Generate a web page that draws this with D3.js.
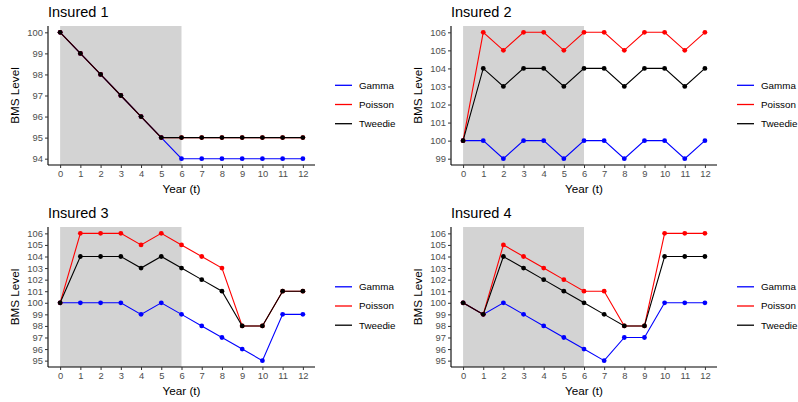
<!DOCTYPE html>
<html><head><meta charset="utf-8">
<script src="https://cdn.jsdelivr.net/npm/d3@7"></script>
<style>body{margin:0;background:#fff}svg{display:block}</style>
</head><body>
<svg id="c" width="798" height="402"></svg>
<script>
const years = [0,1,2,3,4,5,6,7,8,9,10,11,12];
const seriesNames = ["Gamma","Poisson","Tweedie"];
const seriesColors = ["#0000FF","#FF0000","#000000"];
const titles = ["Insured 1","Insured 2","Insured 3","Insured 4"];

const ins1Gamma   = [100,99,98,97,96,95,94,94,94,94,94,94,94];
const ins1Poisson = [100,99,98,97,96,95,95,95,95,95,95,95,95];
const ins1Tweedie = [100,99,98,97,96,95,95,95,95,95,95,95,95];

const ins2Gamma   = [100,100,99,100,100,99,100,100,99,100,100,99,100];
const ins2Poisson = [100,106,105,106,106,105,106,106,105,106,106,105,106];
const ins2Tweedie = [100,104,103,104,104,103,104,104,103,104,104,103,104];

const ins3Gamma   = [100,100,100,100,99,100,99,98,97,96,95,99,99];
const ins3Poisson = [100,106,106,106,105,106,105,104,103,98,98,101,101];
const ins3Tweedie = [100,104,104,104,103,104,103,102,101,98,98,101,101];

const ins4Gamma   = [100,99,100,99,98,97,96,95,97,97,100,100,100];
const ins4Poisson = [100,99,105,104,103,102,101,101,98,98,106,106,106];
const ins4Tweedie = [100,99,104,103,102,101,100,99,98,98,104,104,104];

const yTicks1 = [94,95,96,97,98,99,100];
const yTicks2 = [99,100,101,102,103,104,105,106];
const yTicks3 = [95,96,97,98,99,100,101,102,103,104,105,106];
const yTicks4 = [95,96,97,98,99,100,101,102,103,104,105,106];
const shadeRange = [0,6];

const panels = [
  {title:titles[0], data:[ins1Gamma,ins1Poisson,ins1Tweedie], ticks:yTicks1, x0:48, x1:315, y0:26, y1:165},
  {title:titles[1], data:[ins2Gamma,ins2Poisson,ins2Tweedie], ticks:yTicks2, x0:451, x1:717, y0:26, y1:165},
  {title:titles[2], data:[ins3Gamma,ins3Poisson,ins3Tweedie], ticks:yTicks3, x0:48, x1:315, y0:227, y1:367},
  {title:titles[3], data:[ins4Gamma,ins4Poisson,ins4Tweedie], ticks:yTicks4, x0:451, x1:717, y0:227, y1:367}
];

const svg = d3.select("#c");
const FONT = "'Liberation Sans', Arial, Helvetica, sans-serif";

panels.forEach(p => {
  const g = svg.append("g");
  const all = p.data.flat();
  const mn = d3.min(all), mx = d3.max(all), r = mx - mn;
  const x = d3.scaleLinear().domain([-0.6, 12.6]).range([p.x0, p.x1]);
  const y = d3.scaleLinear().domain([mn - 0.05*r, mx + 0.05*r]).range([p.y1, p.y0]);

  // shaded region
  g.append("rect").attr("x", x(shadeRange[0])).attr("y", p.y0)
    .attr("width", x(shadeRange[1]) - x(shadeRange[0])).attr("height", p.y1 - p.y0)
    .attr("fill", "#d3d3d3");

  // series
  p.data.forEach((vals, i) => {
    const pts = years.map((yr, j) => [yr, vals[j]]);
    g.append("path").datum(pts)
      .attr("d", d3.line().x(d => x(d[0])).y(d => y(d[1])))
      .attr("fill", "none").attr("stroke", seriesColors[i]).attr("stroke-width", 1.1);
    g.selectAll(null).data(pts).enter().append("circle")
      .attr("cx", d => x(d[0])).attr("cy", d => y(d[1])).attr("r", 2.4)
      .attr("fill", seriesColors[i]);
  });

  // axes
  const xa = g.append("g").attr("transform", `translate(0,${p.y1})`)
    .call(d3.axisBottom(x).tickValues(years).tickSize(3).tickPadding(2).tickFormat(d3.format("d")));
  const ya = g.append("g").attr("transform", `translate(${p.x0},0)`)
    .call(d3.axisLeft(y).tickValues(p.ticks).tickSize(3).tickPadding(2).tickFormat(d3.format("d")));
  [xa, ya].forEach(a => {
    a.select(".domain").attr("stroke", "#000").attr("stroke-width", 1.1);
    a.selectAll(".tick line").attr("stroke", "#333");
    a.selectAll(".tick text").attr("fill", "#4d4d4d").style("font-family", FONT).style("font-size", "9.4px");
  });
  xa.select(".domain").attr("d", `M${p.x0},0H${p.x1}`);
  ya.select(".domain").attr("d", `M0,${p.y1}V${p.y0}`);

  // titles
  g.append("text").attr("x", p.x0).attr("y", p.y0 - 9).text(p.title)
    .style("font-family", FONT).style("font-size", "14.5px").attr("fill", "#000");
  g.append("text").attr("x", (p.x0 + p.x1)/2).attr("y", p.y1 + 28).attr("text-anchor", "middle")
    .text("Year (t)").style("font-family", FONT).style("font-size", "11.7px");
  g.append("text").attr("transform", `translate(${p.x0 - 29},${(p.y0+p.y1)/2}) rotate(-90)`)
    .attr("text-anchor", "middle").text("BMS Level")
    .style("font-family", FONT).style("font-size", "11.7px");

  // legend
  const lx = p.x1 + 20, lc = (p.y0 + p.y1)/2 + 9;
  seriesNames.forEach((nm, i) => {
    const ly = lc + (i - 1) * 19.2;
    g.append("line").attr("x1", lx).attr("x2", lx + 17).attr("y1", ly).attr("y2", ly)
      .attr("stroke", seriesColors[i]).attr("stroke-width", 1.3);
    g.append("text").attr("x", lx + 24).attr("y", ly).attr("dy", "0.35em").text(nm)
      .style("font-family", FONT).style("font-size", "9.8px").attr("fill", "#000");
  });
});
</script>
</body></html>
